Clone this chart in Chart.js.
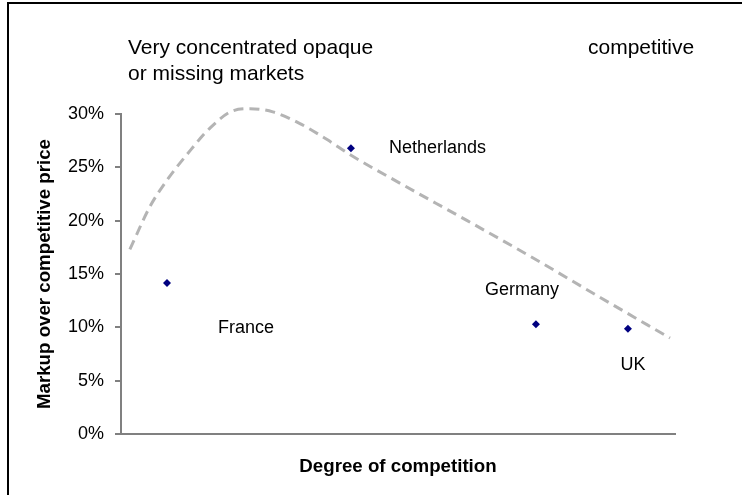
<!DOCTYPE html>
<html>
<head>
<meta charset="utf-8">
<script src="https://cdn.jsdelivr.net/npm/chart.js@4/dist/chart.umd.min.js"></script>
<style>
  html, body { margin: 0; padding: 0; background: #fff; }
  #wrap { position: relative; width: 742px; height: 495px; overflow: hidden; }
  #frame { position: absolute; left: 7px; top: 2px; width: 800px; height: 600px;
           border-left: 2px solid #000; border-top: 2px solid #000; }
  canvas { position: absolute; left: 0; top: 0; }
</style>
</head>
<body>
<div id="wrap">
  <div id="frame"></div>
  <canvas id="chart" width="742" height="495"></canvas>
</div>
<script>
// trend curve (dashed)
const curveX = [1.6, 5.2, 8.3, 11.9, 16.1, 20.2, 23.3, 27.4, 32.3, 37.2, 41.3, 50.4, 62.5, 74.4, 86.5, 99.1];
const curveY = [17.3, 21.3, 23.8, 26.2, 28.7, 30.3, 30.5, 30.2, 29.1, 27.6, 26.2, 23.5, 20.0, 16.5, 12.8, 9.0];

// countries
const countries = ["France", "Netherlands", "Germany", "UK"];
const countryX = [8.3, 41.5, 74.9, 91.5];
const countryY = [14.15, 26.8, 10.3, 9.87];

const yTicks = [0, 5, 10, 15, 20, 25, 30];

const FONT = "'Liberation Sans', Arial, sans-serif";

// where each country name sits relative to its marker
const labelPos = {
    France:      { dx: 79,  dy: 45,  align: "center" },
    Netherlands: { dx: 38,  dy: 0,   align: "left" },
    Germany:     { dx: -14, dy: -34, align: "center" },
    UK:          { dx: 5,   dy: 36,  align: "center" },
};

const textPlugin = {
    id: "texts",
    afterDatasetsDraw(chart) {
        const ctx = chart.ctx;
        const meta = chart.getDatasetMeta(1);
        ctx.save();
        ctx.fillStyle = "#000";
        ctx.font = "18px " + FONT;
        ctx.textBaseline = "middle";
        meta.data.forEach((pt, i) => {
            const p = labelPos[countries[i]];
            ctx.textAlign = p.align;
            ctx.fillText(countries[i], pt.x + p.dx, pt.y + p.dy);
        });
        ctx.font = "21px " + FONT;
        ctx.textBaseline = "alphabetic";
        ctx.textAlign = "left";
        ctx.fillText("Very concentrated opaque", 128, 54);
        ctx.fillText("or missing markets", 128, 80);
        ctx.fillText("competitive", 588, 54);
        ctx.restore();
    },
};

new Chart(document.getElementById("chart"), {
    type: "scatter",
    data: {
        datasets: [
            {
                type: "line",
                data: curveX.map((x, i) => ({ x, y: curveY[i] })),
                borderColor: "#b4b4b4", borderWidth: 3, borderDash: [10, 6],
                cubicInterpolationMode: "monotone", pointRadius: 0, fill: false, clip: false,
            },
            {
                data: countryX.map((x, i) => ({ x, y: countryY[i] })),
                pointStyle: "rectRot", pointRadius: 4,
                backgroundColor: "#000080", borderColor: "#000080", borderWidth: 0,
            },
        ],
    },
    options: {
        responsive: false, animation: false,
        layout: { padding: { top: 114, right: 67, left: 0, bottom: 0 } },
        plugins: { legend: { display: false }, tooltip: { enabled: false } },
        scales: {
            x: {
                type: "linear", min: 0, max: 100,
                ticks: { display: false },
                grid: { display: false },
                border: { color: "#808080", width: 2 },
                title: { display: true, text: "Degree of competition", color: "#000",
                         font: { family: FONT, size: 18.7, weight: "bold" }, padding: { bottom: 17, top: 0 } },
                afterFit(s) { s.height = 61; },
            },
            y: {
                min: 0, max: 30,
                afterBuildTicks(s) { s.ticks = yTicks.map(v => ({ value: v })); },
                ticks: { color: "#000", padding: 11, font: { family: FONT, size: 18 }, callback: v => v + "%" },
                grid: { drawOnChartArea: false, drawTicks: true, tickLength: 6, color: "#808080", lineWidth: 2 },
                border: { color: "#808080", width: 2 },
                title: { display: true, text: "Markup over competitive price", color: "#000",
                         font: { family: FONT, size: 18.7, weight: "bold" }, padding: { top: 34, bottom: 0 } },
                afterFit(s) { s.width = 121; },
            },
        },
    },
    plugins: [textPlugin],
});
</script>
</body>
</html>
